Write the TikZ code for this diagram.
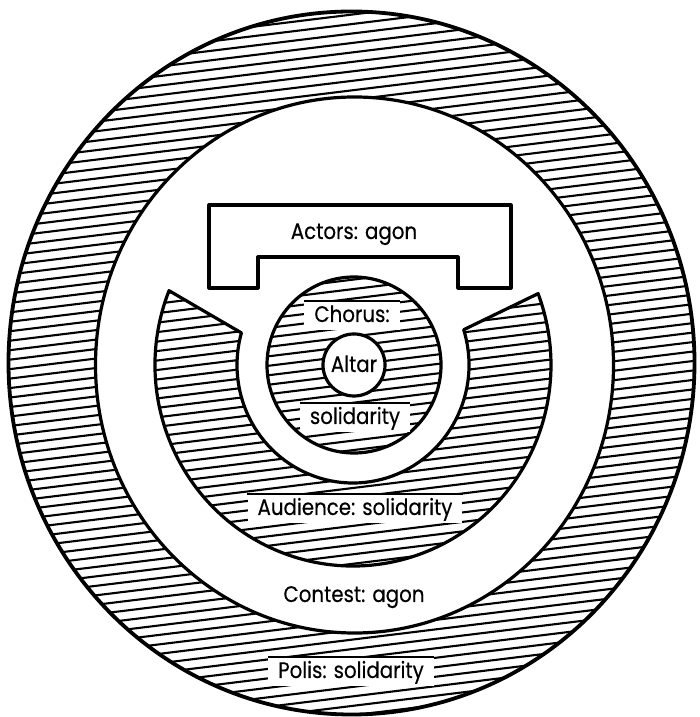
\documentclass[tikz,border=0pt]{standalone}
\usepackage{fontspec}
\setmainfont{Poppins}[FakeStretch=0.88, FakeBold=0.3]
\begin{document}
\begin{tikzpicture}[x=1pt,y=1pt,
  hatch/.style={line width=2.1pt, rotate around={7:(352,352)}},
  rim/.style={line width=3.2pt, line join=round},
  lab/.style={font=\fontsize{22.5}{24}\selectfont, inner xsep=10pt, inner ysep=2pt,
    text height=19pt, text depth=6pt, anchor=base},
  cutlab/.style={lab, fill=white},
  topline/.style={line width=1.8pt}]
\useasboundingbox (0,0) rectangle (699,717);
\newcommand\hatchall{\foreach \i in {-48,...,48} \draw[hatch] (-150,352+\i*9.4) -- (850,352+\i*9.4);}
\newcommand\audpath{([shift={(353,352)}]158.3:198 and 201) arc[start angle=158.3, end angle=380.8, x radius=198, y radius=201]
  -- ([shift={(353,352)}]17.4:116 and 118) arc[start angle=17.4, end angle=-195.8, x radius=116, y radius=118] -- cycle}
% Polis ring
\begin{scope}
  \clip (351.5,354) ellipse[x radius=343.5, y radius=352];
  \hatchall
\end{scope}
\draw[line width=3.8pt] (351.5,354) ellipse[x radius=343, y radius=351.5];
% Contest (white)
\filldraw[rim, fill=white] (354.5,352) ellipse[x radius=259, y radius=268];
% Audience
\begin{scope}
  \clip \audpath;
  \hatchall
\end{scope}
\draw[rim] \audpath;
% Chorus
\begin{scope}
  \clip (354,352) ellipse[x radius=87, y radius=88];
  \hatchall
\end{scope}
\draw[rim] (354,352) ellipse[x radius=87, y radius=88];
% Altar
\filldraw[rim, fill=white] (354,352) circle[radius=31];
% Actors platform
\filldraw[rim, fill=white] (209,512) -- (511,512) -- (511,429) -- (458,429) -- (458,460)
  -- (258,460) -- (258,429) -- (209,429) -- cycle;
% Labels
\node[lab] (actors) at (354,478) {Actors: agon};
\node[cutlab] (chorus) at (352,395) {Chorus:};
\node[lab, inner xsep=0pt] (altar) at (354,345) {Altar};
\node[cutlab] (chsol) at (355,293) {solidarity};
\node[cutlab] (audience) at (355,202) {Audience: solidarity};
\node[lab] (contest) at (354,115) {Contest: agon};
\node[cutlab] (polis) at (351,39) {Polis: solidarity};
\foreach \n in {chorus,chsol,audience,polis}
  \draw[topline] (\n.north west) -- (\n.north east);
\end{tikzpicture}
\end{document}
